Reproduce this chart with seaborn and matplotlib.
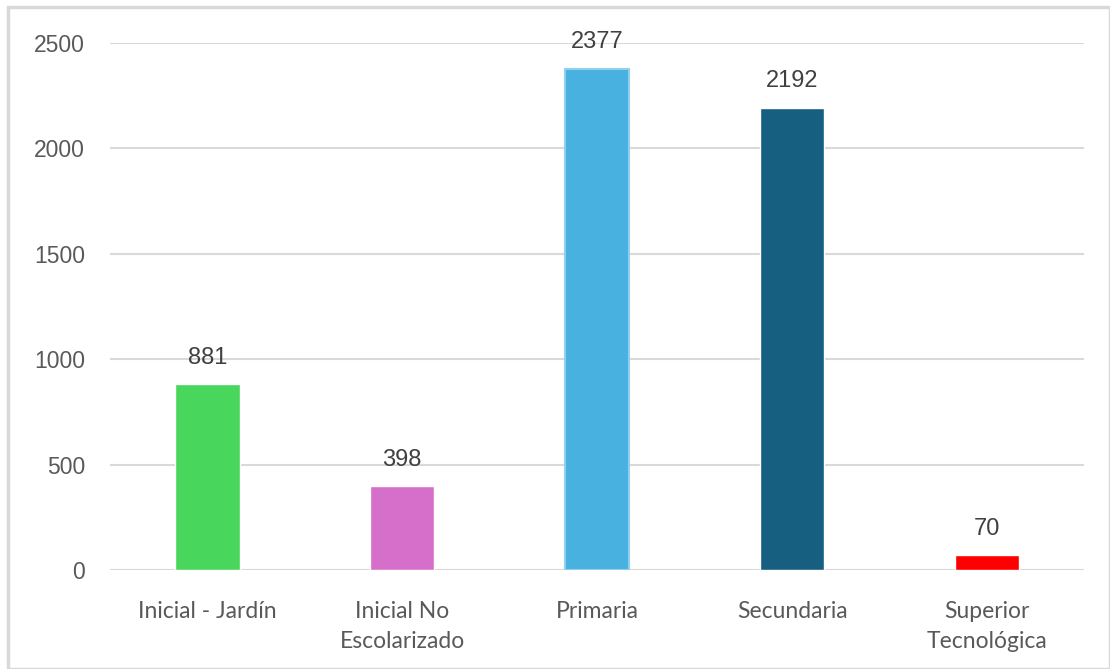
import matplotlib
matplotlib.use("Agg")
import matplotlib.pyplot as plt
import seaborn as sns
import pandas as pd
from matplotlib.patches import Rectangle

categories = ["Inicial - Jardín", "Inicial No\nEscolarizado", "Primaria", "Secundaria", "Superior\nTecnológica"]
values = [881, 398, 2377, 2192, 70]
colors = ["#48d65c", "#d66fc9", "#48b1e0", "#165f81", "#ff0000"]
yticks = [0, 500, 1000, 1500, 2000, 2500]

sns.set_theme(style="white")
plt.rcParams['font.family'] = ['Liberation Sans', 'DejaVu Sans']

df = pd.DataFrame({"cat": categories, "val": values})

fig = plt.figure(figsize=(11.1, 6.69), dpi=100)
ax = fig.add_axes([0.099, 0.148, 0.878, 0.788])
sns.barplot(data=df, x="cat", y="val", hue="cat", palette=colors, legend=False,
            width=0.33, ax=ax, saturation=1)
# light border on Primaria bar
ax.patches[2].set_edgecolor("#8fd0ee")
ax.patches[2].set_linewidth(1.5)

ax.set_ylim(0, 2500)
ax.set_yticks(yticks)
ax.set_xlim(-0.5, 4.5)
ax.grid(axis="y", color="#d9d9d9", linewidth=1.5)
ax.set_axisbelow(True)
for s in ax.spines.values():
    s.set_visible(False)
ax.set_xlabel("")
ax.set_ylabel("")
ax.tick_params(axis="y", length=0, labelsize=16.5, labelcolor="#595959", pad=18)
ax.tick_params(axis="x", length=0, labelsize=16.5, labelcolor="#595959", pad=22)
for lab in ax.get_yticklabels():
    lab.set_horizontalalignment("right")
for lab in ax.get_xticklabels():
    lab.set_fontfamily(["Lato", "DejaVu Sans"])
    lab.set_linespacing(1.55)
    lab.set_verticalalignment("top")

for i, v in enumerate(values):
    ax.annotate(str(v), (i, v), xytext=(0, 11), textcoords="offset points",
                ha="center", va="bottom", fontsize=17, color="#404040",
                annotation_clip=False)

fig.patches.append(Rectangle((8/1110, 0), 1 - 8/1110, 1 - 7/669, transform=fig.transFigure,
                             fill=False, edgecolor="#d9d9d9", linewidth=2.5))

fig.savefig("out.png", dpi=100)
